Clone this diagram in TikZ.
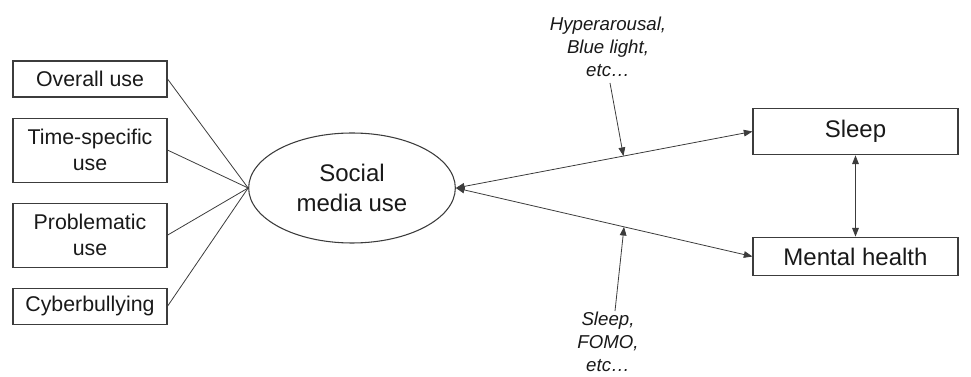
\documentclass[tikz,border=0pt]{standalone}
\usepackage{fontspec}
\setmainfont{Liberation Sans}
\usetikzlibrary{shapes.geometric, arrows.meta, positioning, calc}
\definecolor{linecolor}{RGB}{60, 60, 60}
\definecolor{textcolor}{RGB}{25, 25, 25}

\begin{document}
\begin{tikzpicture}[
    x=0.75pt, y=-0.75pt,
    node distance=15pt and 20pt, % Vertical and Horizontal
    % Styles
    measurebox/.style={
        rectangle,
        draw=linecolor,
        line width=0.8pt,
        minimum width=115.5pt,
        minimum height=#1,
        inner sep=2pt,
        align=center,
        text=textcolor,
        font=\fontsize{16}{19.5}\selectfont
    },
    latentnode/.style={
        ellipse,
        draw=linecolor,
        line width=0.8pt,
        minimum width=155pt,
        minimum height=82.5pt,
        inner sep=0pt,
        align=center,
        text=textcolor,
        font=\fontsize{18}{22.5}\selectfont
    },
    outcomebox/.style={
        rectangle,
        draw=linecolor,
        line width=0.8pt,
        minimum width=153.75pt,
        minimum height=#1,
        inner sep=2pt,
        text=textcolor,
        font=\fontsize{18}{22}\selectfont
    },
    modlabel/.style={
        align=center,
        text=textcolor,
        inner sep=2pt,
        font=\fontsize{14}{17.4}\selectfont\itshape
    },
    link/.style={
        draw=linecolor,
        line width=0.6pt
    },
    arrow/.style={
        link,
        -{Triangle[length=6.5pt, width=5pt]}
    },
    bothways/.style={
        link,
        {Triangle[length=6.5pt, width=5pt]}-{Triangle[length=6.5pt, width=5pt]}
    }
]

\useasboundingbox (0,0) rectangle (971,377);

% --- Indicators (Left) ---
\node (overall) [measurebox=27pt] at (90,79) {Overall use};
\node (timeuse) [measurebox=48pt, below=of overall] {Time-specific\\use};
\node (problem) [measurebox=48pt, below=of timeuse] {Problematic\\use};
\node (cyber) [measurebox=27pt, below=of problem] {Cyberbullying};

% --- Latent (Middle) ---
\node (social) [latentnode] at (352,188) {Social\\media use};

% --- Outcomes (Right) ---
\node (sleep) [outcomebox=35pt] at (855.5,131.5) {Sleep};
\node (mental) [outcomebox=29pt] at (855.5,256.5) {Mental health};

% --- Mechanisms ---
\node (hyper) [modlabel] at (608,47) {Hyperarousal,\\Blue light,\\etc…};
\node (fomo) [modlabel] at (608,342) {Sleep,\\FOMO,\\etc…};

% --- Connections ---

% Indicators to latent
\draw [link] (overall.east) -- (social.west);
\draw [link] (timeuse.east) -- (social.west);
\draw [link] (problem.east) -- (social.west);
\draw [link] (cyber.east) -- (social.west);

% Latent to outcomes
\draw [bothways] (social.east) -- (sleep.west);
\draw [bothways] (social.east) -- (mental.west);
\draw [bothways] (sleep.south) -- (mental.north);

% Mechanisms onto the paths
\coordinate (sleeppath) at ($(social.east)!0.565!(sleep.west)$);
\coordinate (mentalpath) at ($(social.east)!0.567!(mental.west)$);
\draw [arrow] (hyper.south) ++(2,3) -- (sleeppath);
\draw [arrow] (fomo.north) ++(7,2) -- (mentalpath);

\end{tikzpicture}
\end{document}
